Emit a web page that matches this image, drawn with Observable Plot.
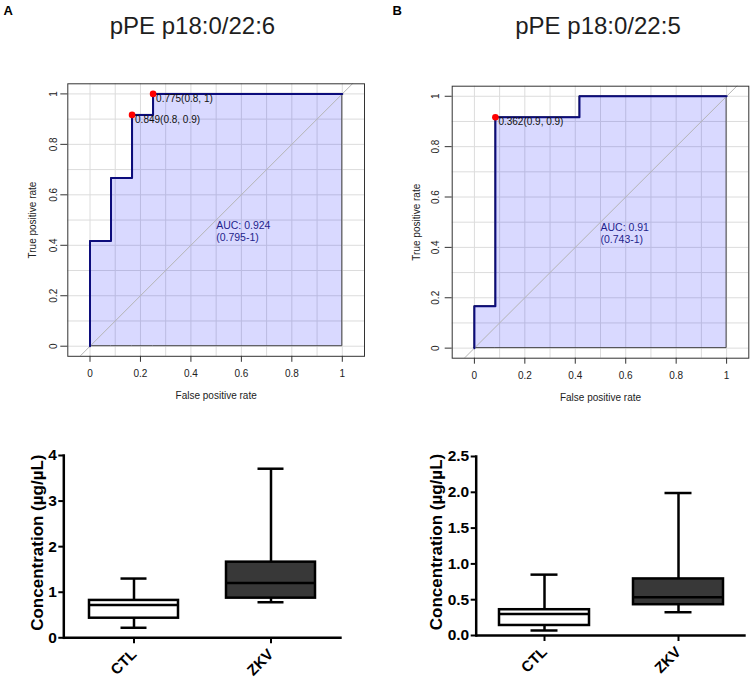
<!DOCTYPE html>
<html><head><meta charset="utf-8">
<script src="https://cdn.jsdelivr.net/npm/d3@7"></script>
<script src="https://cdn.jsdelivr.net/npm/@observablehq/plot@0.6"></script>
<style>
body{margin:0;background:#fff;}
#wrap{position:relative;width:751px;height:682px;overflow:hidden;background:#fff;}
#wrap > svg, #wrap > figure{position:absolute;margin:0;}
</style></head><body><div id="wrap"></div>
<script>
// ---- data ----
const groups = ["CTL", "ZKV"];
const rocTicks = [0, 0.2, 0.4, 0.6, 0.8, 1];
const gridTicks = [0, 0.1, 0.2, 0.3, 0.4, 0.5, 0.6, 0.7, 0.8, 0.9, 1];
const diagLine = [-0.2, 1.2];

const titleA = "pPE p18:0/22:6";
const titleB = "pPE p18:0/22:5";

const fprA = [0, 0, 0.0833, 0.0833, 0.1667, 0.1667, 0.25, 0.25, 1];
const tprA = [0, 0.4167, 0.4167, 0.6667, 0.6667, 0.9167, 0.9167, 1, 1];
const cutXA = [0.1667, 0.25];
const cutYA = [0.9167, 1];
const cutLabelA = ["0.849(0.8, 0.9)", "0.775(0.8, 1)"];
const aucLabelA = "AUC: 0.924\n(0.795-1)";

const fprB = [0, 0, 0.0833, 0.0833, 0.4167, 0.4167, 1];
const tprB = [0, 0.1667, 0.1667, 0.9167, 0.9167, 1, 1];
const cutXB = [0.0833];
const cutYB = [0.9167];
const cutLabelB = ["0.362(0.9, 0.9)"];
const aucLabelB = "AUC: 0.91\n(0.743-1)";

const aucPos = [0.5, 0.5];

const minA = [0.22, 0.78];
const q1A  = [0.43, 0.87];
const medA = [0.72, 1.20];
const q3A  = [0.82, 1.66];
const maxA = [1.30, 3.71];
const concTicksA = [0, 1, 2, 3, 4];

const minB = [0.07, 0.325];
const q1B  = [0.14, 0.43];
const medB = [0.30, 0.535];
const q3B  = [0.36, 0.79];
const maxB = [0.85, 1.99];
const concTicksB = [0, 0.5, 1.0, 1.5, 2.0, 2.5];

const yLabelBox = "Concentration (µg/µL)";

// ---- drawing ----
const wrap = document.getElementById("wrap");
const FONT = "'Liberation Sans', Arial, Helvetica, sans-serif";

function roc(o) {
  const curve = o.fpr.map((x, i) => ({x, y: o.tpr[i]}));
  const cuts = o.cutX.map((x, i) => ({x, y: o.cutY[i], label: o.cutLabel[i]}));
  const svg = Plot.plot({
    width: o.width, height: 400,
    marginLeft: o.mL, marginRight: o.mR, marginTop: o.mT, marginBottom: o.mB,
    x: {domain: [-0.088, 1.088]},
    y: {domain: [-0.04, 1.04]},
    style: {fontFamily: FONT, fontSize: "10px", color: "#222", background: "transparent", overflow: "visible"},
    marks: [
      Plot.ruleX(gridTicks, {stroke: "#dcdcdc", strokeWidth: 1}),
      Plot.ruleY(gridTicks, {stroke: "#dcdcdc", strokeWidth: 1}),
      Plot.areaY(curve, {x: "x", y1: () => 0, y2: "y", fill: "#0000ff", fillOpacity: 0.15, stroke: "#444", strokeWidth: 1}),
      Plot.line(diagLine, {x: d => d, y: d => d, stroke: "#b4b4b4", strokeWidth: 1, clip: true}),
      Plot.line(curve, {x: "x", y: "y", stroke: "#0c0c7c", strokeWidth: 2}),
      Plot.dot(cuts, {x: "x", y: "y", r: 3.3, fill: "#ff0000"}),
      Plot.text(cuts, {x: "x", y: "y", text: "label", textAnchor: "start", lineAnchor: "top", dx: 3, dy: 1, fill: "#111", fontSize: 10}),
      Plot.text([o.auc], {x: () => aucPos[0], y: () => aucPos[1], text: d => d, textAnchor: "start", lineAnchor: "top", lineHeight: 1.18, fill: "#1f1f8c", fontSize: 10.5}),
      Plot.frame({stroke: "#333", strokeWidth: 1}),
      Plot.axisX(rocTicks, {tickSize: 6, tickPadding: 8, tickFormat: d => String(d), stroke: "#333", label: null}),
      Plot.axisY(rocTicks, {tickSize: 7, tickPadding: o.yPad, tickRotate: -90, tickFormat: d => String(d), stroke: "#333", label: null}),
      Plot.text(["False positive rate"], {frameAnchor: "bottom", textAnchor: "middle", lineAnchor: "middle", dy: o.xLabDy, text: d => d, fontSize: 10}),
      Plot.text(["True positive rate"], {frameAnchor: "left", textAnchor: "middle", lineAnchor: "middle", dx: -35, rotate: -90, text: d => d, fontSize: 10}),
      Plot.text([o.title], {frameAnchor: "top", textAnchor: "middle", lineAnchor: "middle", dx: o.titleDx, dy: o.titleDy, text: d => d, fontSize: 24, fill: "#1e1e1e"}),
      Plot.text([o.letter], {frameAnchor: "top-left", textAnchor: "start", lineAnchor: "middle", dx: o.letterDx, dy: o.letterDy, text: d => d, fontSize: 13, fontWeight: "bold", fill: "#000"})
    ]
  });
  svg.style.left = o.left + "px";
  svg.style.top = "0px";
  wrap.appendChild(svg);
}

function boxplot(o) {
  const rows = groups.map((g, i) => ({g, min: o.min[i], q1: o.q1[i], med: o.med[i], q3: o.q3[i], max: o.max[i]}));
  const sw = 2.5;
  const cap = o.cap;
  const svg = Plot.plot({
    width: o.width, height: 282,
    marginLeft: o.mL, marginRight: o.mR, marginTop: o.mT, marginBottom: o.mB,
    x: {domain: groups, paddingInner: o.pi, paddingOuter: o.po},
    y: {domain: o.yDomain},
    style: {fontFamily: FONT, fontSize: "15px", fontWeight: "bold", color: "#000", background: "transparent", overflow: "visible"},
    marks: [
      Plot.ruleX(rows, {x: "g", y1: "q3", y2: "max", stroke: "#000", strokeWidth: sw}),
      Plot.ruleX(rows, {x: "g", y1: "min", y2: "q1", stroke: "#000", strokeWidth: sw}),
      Plot.tickY(rows, {x: "g", y: "max", insetLeft: cap, insetRight: cap, stroke: "#000", strokeWidth: sw}),
      Plot.tickY(rows, {x: "g", y: "min", insetLeft: cap, insetRight: cap, stroke: "#000", strokeWidth: sw}),
      Plot.barY(rows, {filter: d => d.g === "CTL", x: "g", y1: "q1", y2: "q3", fill: "#ffffff", stroke: "#000", strokeWidth: sw}),
      Plot.barY(rows, {filter: d => d.g === "ZKV", x: "g", y1: "q1", y2: "q3", fill: "#383838", stroke: "#000", strokeWidth: sw}),
      Plot.tickY(rows, {x: "g", y: "med", stroke: "#000", strokeWidth: sw}),
      Plot.ruleY([0], {stroke: "#000", strokeWidth: sw}),
      Plot.frame({anchor: "left", stroke: "#000", strokeWidth: sw}),
      Plot.axisY(o.ticks, {tickSize: 5, tickPadding: 2, strokeWidth: 2, stroke: "#000", tickFormat: o.fmt, label: null, fontSize: 15.5, fontWeight: "bold"}),
      Plot.axisX(groups, {tickRotate: -45, tickSize: 6, tickPadding: 8, strokeWidth: 2, stroke: "#000", label: null, fontSize: 15, fontWeight: "bold"}),
      Plot.text([yLabelBox], {frameAnchor: "left", textAnchor: "middle", lineAnchor: "middle", dx: o.labelDx, dy: -4, rotate: -90, text: d => d, fontSize: 17, fontWeight: "bold"})
    ]
  });
  svg.style.left = o.left + "px";
  svg.style.top = "400px";
  wrap.appendChild(svg);
}

roc({fpr: fprA, tpr: tprA, cutX: cutXA, cutY: cutYA, cutLabel: cutLabelA, auc: aucLabelA,
     title: titleA, letter: "A", left: 0, width: 375, mL: 67.3, mR: 11, mT: 83.3, mB: 44.2,
     yPad: 4, xLabDy: 39.5, titleDx: -23.7, titleDy: -57.3, letterDx: -64.3, letterDy: -73.3});
roc({fpr: fprB, tpr: tprB, cutX: cutXB, cutY: cutYB, cutLabel: cutLabelB, auc: aucLabelB,
     title: titleB, letter: "B", left: 375, width: 376, mL: 76.7, mR: 2.7, mT: 85.7, mB: 42.3,
     yPad: 6, xLabDy: 39.6, titleDx: -2.5, titleDy: -59.7, letterDx: -59.7, letterDy: -75.7});

boxplot({min: minA, q1: q1A, med: medA, q3: q3A, max: maxA, ticks: concTicksA, yDomain: [0, 4],
         fmt: d3.format("d"), left: 0, width: 375, mL: 63.3, mR: 33.3, mT: 55, mB: 44.7,
         pi: 0.348, po: 0.19, cap: 31.5, labelDx: -26});
boxplot({min: minB, q1: q1B, med: medB, q3: q3B, max: maxB, ticks: concTicksB, yDomain: [0, 2.5],
         fmt: d3.format(".1f"), left: 375, width: 376, mL: 100.7, mR: 5.3, mT: 56, mB: 47,
         pi: 0.326, po: 0.166, cap: 31.5, labelDx: -40});
</script></body></html>
